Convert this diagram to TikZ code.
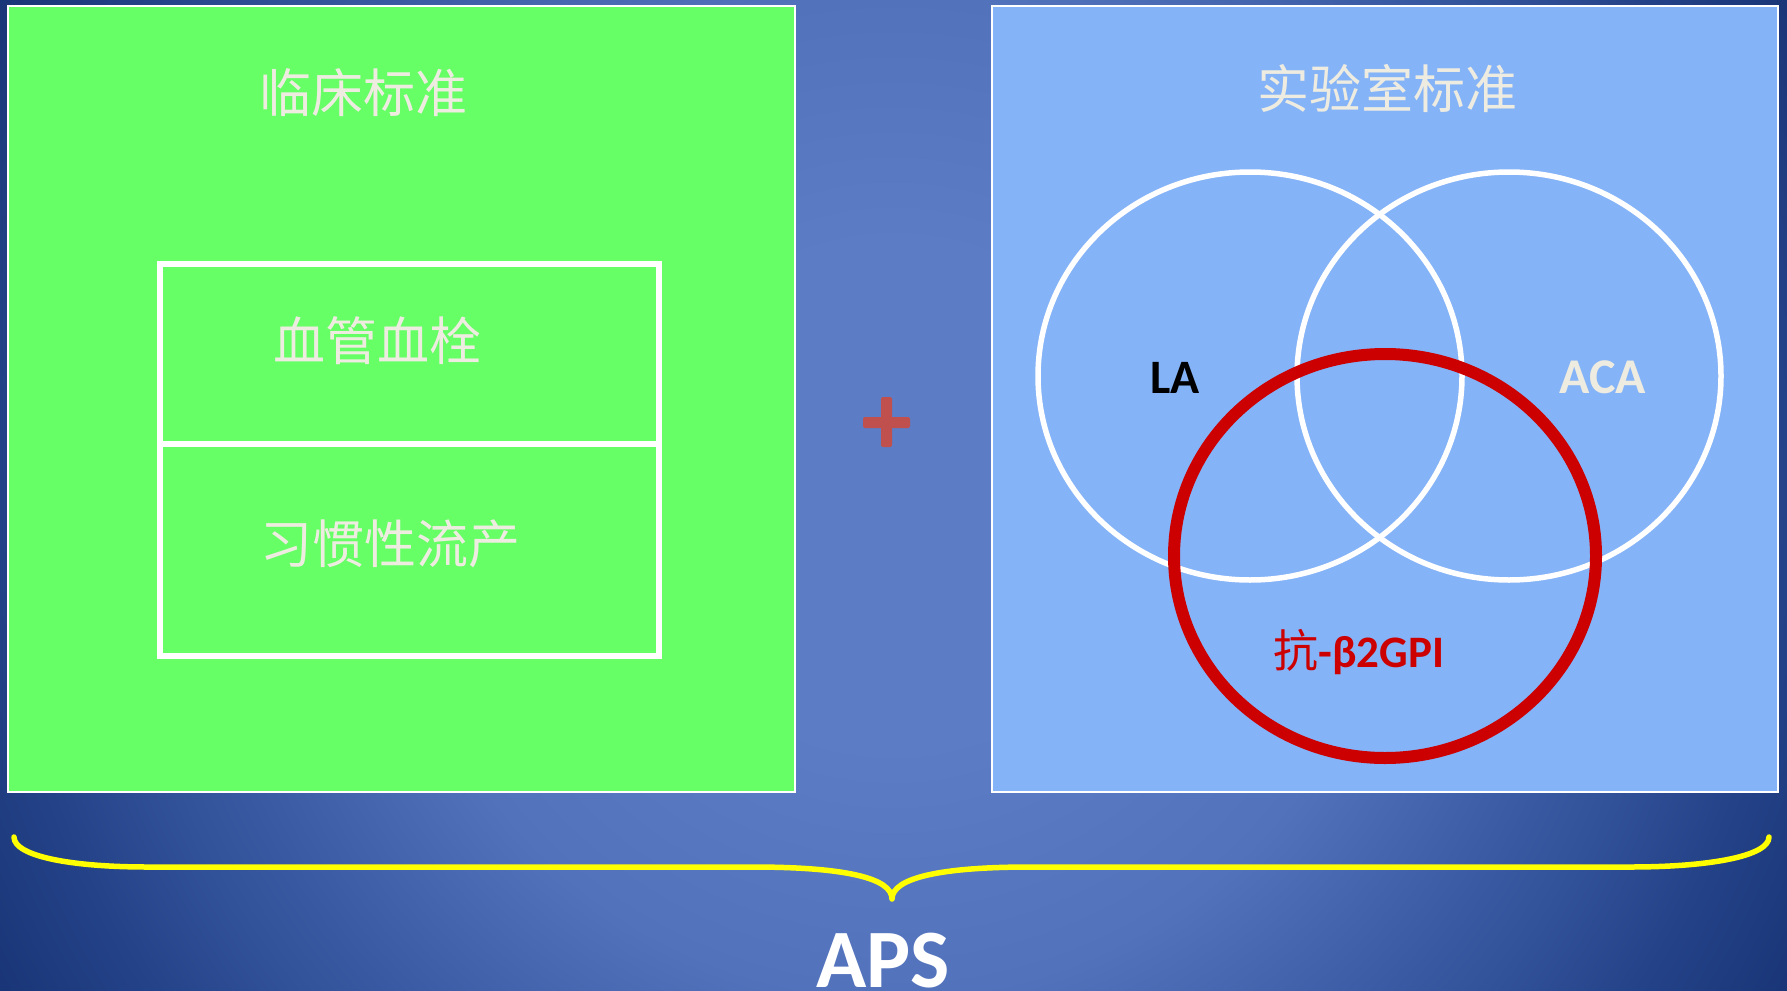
\documentclass[tikz,border=0pt]{standalone}
\usepackage{fontspec}
\setmainfont{Carlito}
\newfontfamily\cjk{Noto Sans CJK SC}
\definecolor{bga}{RGB}{92,124,198}
\definecolor{bgb}{RGB}{82,114,187}
\definecolor{bgc}{RGB}{56,89,161}
\definecolor{bgd}{RGB}{36,66,136}
\definecolor{bge}{RGB}{24,52,118}
\definecolor{greenbox}{RGB}{102,255,102}
\definecolor{bluebox}{RGB}{133,179,247}
\definecolor{paper}{RGB}{238,236,225}
\definecolor{plusred}{RGB}{192,80,77}
\definecolor{venred}{RGB}{204,0,0}
\definecolor{braceyellow}{RGB}{255,255,0}
\pgfdeclareradialshading{bgshade}{\pgfpoint{0bp}{0bp}}{color(0bp)=(bga); color(7bp)=(bga); color(14bp)=(bgb); color(20bp)=(bgc); color(25bp)=(bgd); color(29bp)=(bge); color(50bp)=(bge)}
\tikzset{
  panel/.style={draw=white, line width=1.5pt},
  cjktext/.style={font=\cjk\fontsize{52}{60}\selectfont, text=paper, anchor=base, inner sep=0pt},
  venncirc/.style={draw=white, line width=5.5pt},
  redcirc/.style={draw=venred, line width=12pt},
  latin/.style={font=\bfseries\fontsize{48}{56}\selectfont, anchor=base, inner sep=0pt},
}
\begin{document}
\begin{tikzpicture}[x=1pt,y=-1pt]
\useasboundingbox (0,0) rectangle (1787,990);
\begin{scope}
\clip (0,0) rectangle (1787,990);
\shade[shading=bgshade] (0,-398.5) rectangle (1787,1388.5);
\end{scope}

% panels
\draw[panel, fill=greenbox] (8,6) rectangle (795,792);
\draw[panel, fill=bluebox] (992,6) rectangle (1778,792);

% left panel
\node[cjktext] (clin) at (363,112) {临床标准};
\draw[white, line width=5.3pt] (160,264) rectangle (659,656);
\coordinate (midL) at (160,444);
\coordinate (midR) at (659,444);
\draw[white, line width=5.3pt] (midL) -- (midR);
\node[cjktext] (thromb) at (377,360) {血管血栓};
\node[cjktext] (abort) at (390,563) {习惯性流产};

% plus sign
\fill[plusred, rounded corners=2pt] (863,417) rectangle (910,428);
\fill[plusred, rounded corners=2pt] (881,397) rectangle (892,447);

% right panel
\node[cjktext] (lab) at (1387,108) {实验室标准};
\draw[venncirc] (1250,376) ellipse [x radius=212, y radius=204];
\draw[venncirc] (1509,376) ellipse [x radius=212, y radius=204];
\draw[redcirc] (1385,556) ellipse [x radius=211, y radius=202];
\node[latin, text=black] (la) at (1175,393) {LA};
\node[latin, text=paper, font=\bfseries\fontsize{50}{58}\selectfont] (aca) at (1603,393) {ACA};
\node[font=\bfseries\fontsize{45}{52}\selectfont, text=venred, anchor=base, inner sep=0pt] (b2) at (1359,667) {{\cjk\mdseries 抗}-β2GPI};

% brace
\coordinate (bl) at (14,837);
\coordinate (br) at (1769,837);
\coordinate (cusp) at (892,899);
\draw[braceyellow, line width=5.5pt, line cap=round, line join=round]
  (bl) .. controls (14,856) and (70,867) .. (148,867)
  -- (752,867) .. controls (845,867) and (892,878) .. (cusp)
  .. controls (892,878) and (940,867) .. (1030,867)
  -- (1630,867) .. controls (1710,867) and (1769,856) .. (br);

\node[font=\bfseries\fontsize{83}{90}\selectfont, text=white, anchor=base, inner sep=0pt] (aps) at (883,987) {APS};
\end{tikzpicture}
\end{document}
